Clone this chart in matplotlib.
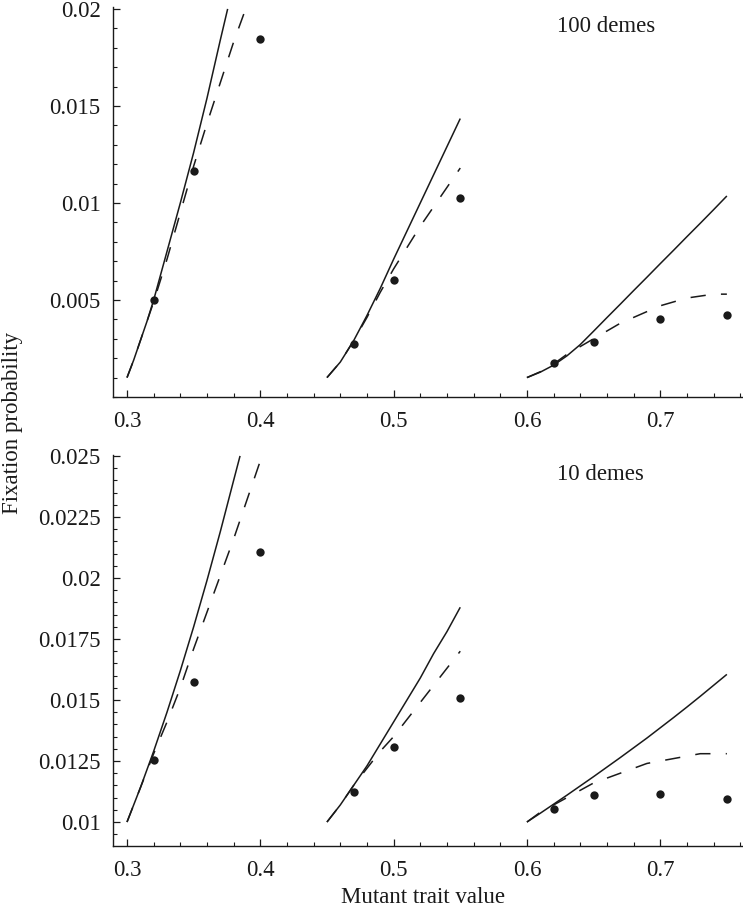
import matplotlib
matplotlib.use('Agg')
import matplotlib.pyplot as plt
from matplotlib.ticker import MultipleLocator

plt.rcParams['font.family'] = ['Liberation Serif', 'DejaVu Serif']
plt.rcParams['font.size'] = 16.5

ink = '#1a1a1a'

# observed points (same x for both panels)
pts_x = [[0.32, 0.35, 0.40], [0.47, 0.50, 0.55], [0.62, 0.65, 0.70, 0.75]]
top_pts_y = [[0.0050, 0.01166, 0.01844],
             [0.00272, 0.00603, 0.01024],
             [0.00174, 0.00285, 0.00402, 0.00424]]
bot_pts_y = [[0.01254, 0.01575, 0.02105],
             [0.01124, 0.01309, 0.01507],
             [0.01053, 0.01111, 0.01114, 0.01094]]

# x grids for the curves
g2_x = [0.45, 0.46, 0.47, 0.48, 0.49, 0.50, 0.51, 0.52, 0.53, 0.54, 0.55]
g3_x = [0.60, 0.61, 0.62, 0.63, 0.64, 0.65, 0.66, 0.67, 0.68, 0.69, 0.70,
        0.71, 0.72, 0.73, 0.74, 0.75]

# 100 demes, solid curves
top_solid1_x = [0.300, 0.305, 0.31, 0.315, 0.32, 0.33, 0.34, 0.35, 0.36, 0.37, 0.3755]
top_solid1_y = [0.0010, 0.0019, 0.0029, 0.0039, 0.0050, 0.0075, 0.0100, 0.0126, 0.0154, 0.0184, 0.0200]
top_solid2_y = [0.0010, 0.0018, 0.0029, 0.0042, 0.0056, 0.0071, 0.00855, 0.0100, 0.01145, 0.0129, 0.01435]
top_solid3_y = [0.00100, 0.00128, 0.00164, 0.00212, 0.00270, 0.00339, 0.00409, 0.00478, 0.00548,
                0.00617, 0.00687, 0.00756, 0.00826, 0.00895, 0.00965, 0.01036]
# 100 demes, dashed curves
top_dash1_x = [0.300, 0.305, 0.31, 0.315, 0.32, 0.33, 0.34, 0.35, 0.36, 0.37, 0.38, 0.389]
top_dash1_y = [0.0010, 0.0019, 0.0029, 0.0039, 0.0049, 0.0071, 0.0095, 0.0119, 0.0141, 0.0162, 0.0183, 0.0200]
top_dash2_y = [0.0010, 0.0018, 0.0029, 0.0041, 0.0054, 0.0066, 0.0077, 0.0088, 0.0098, 0.0108, 0.0118]
top_dash3_y = [0.0010, 0.0013, 0.0017, 0.0022, 0.0026, 0.0030, 0.0034, 0.0038, 0.0041, 0.0044,
               0.0047, 0.0049, 0.0051, 0.0052, 0.0053, 0.0053]

# 10 demes, solid curves
bot_solid1_x = [0.30, 0.31, 0.32, 0.33, 0.34, 0.35, 0.36, 0.37, 0.38, 0.3848]
bot_solid1_y = [0.0100, 0.0114, 0.0129, 0.0145, 0.0162, 0.0180, 0.0199, 0.0219, 0.0240, 0.0250]
bot_solid2_y = [0.0100, 0.0107, 0.0115, 0.0123, 0.0132, 0.0141, 0.0150, 0.0159, 0.0169, 0.0178, 0.0188]
bot_solid3_y = [0.01000, 0.01036, 0.01073, 0.01110, 0.01148, 0.01186, 0.01225, 0.01264, 0.01304,
                0.01344, 0.01386, 0.01428, 0.01471, 0.01515, 0.01560, 0.01605]
# 10 demes, dashed curves
bot_dash1_x = [0.30, 0.31, 0.32, 0.33, 0.34, 0.35, 0.36, 0.37, 0.38, 0.39, 0.40]
bot_dash1_y = [0.0100, 0.0114, 0.0128, 0.0141, 0.0155, 0.0171, 0.0186, 0.0201, 0.0216, 0.0232, 0.0248]
bot_dash2_y = [0.0100, 0.0107, 0.0115, 0.0122, 0.0129, 0.0135, 0.0142, 0.0149, 0.0156, 0.0163, 0.0170]
bot_dash3_y = [0.0100, 0.0104, 0.0107, 0.0110, 0.0113, 0.0116, 0.0118, 0.0120, 0.0122, 0.0124,
               0.0125, 0.0126, 0.0127, 0.0128, 0.0128, 0.0128]

x_ticks = [0.3, 0.4, 0.5, 0.6, 0.7]
x_labels = ['0.3', '0.4', '0.5', '0.6', '0.7']
top_yticks = [0.005, 0.01, 0.015, 0.02]
top_ylabels = ['0.005', '0.01', '0.015', '0.02']
bot_yticks = [0.01, 0.0125, 0.015, 0.0175, 0.02, 0.0225, 0.025]
bot_ylabels = ['0.01', '0.0125', '0.015', '0.0175', '0.02', '0.0225', '0.025']

fig = plt.figure(figsize=(7.43, 9.07), dpi=100)
ax_top = fig.add_axes([0.1521, 0.5623, 0.8479, 0.430])
ax_bot = fig.add_axes([0.1521, 0.0673, 0.8479, 0.4311])

panels = [
    (ax_top, [(top_solid1_x, top_solid1_y), (g2_x, top_solid2_y), (g3_x, top_solid3_y)],
     [(top_dash1_x, top_dash1_y), (g2_x, top_dash2_y), (g3_x, top_dash3_y)],
     top_pts_y, (0.0, 0.0201), top_yticks, top_ylabels, 0.001, '100 demes'),
    (ax_bot, [(bot_solid1_x, bot_solid1_y), (g2_x, bot_solid2_y), (g3_x, bot_solid3_y)],
     [(bot_dash1_x, bot_dash1_y), (g2_x, bot_dash2_y), (g3_x, bot_dash3_y)],
     bot_pts_y, (0.00902, 0.02504), bot_yticks, bot_ylabels, 0.0005, '10 demes'),
]

for ax, solids, dashes, pys, ylim, yt, ytl, yminor, title in panels:
    for xs, ys in solids:
        ax.plot(xs, ys, color=ink, lw=1.1, solid_capstyle='butt')
    for xs, ys in dashes:
        ax.plot(xs, ys, color=ink, lw=1.1, dashes=(10, 10), dash_capstyle='butt')
    for xs, ys in zip(pts_x, pys):
        ax.plot(xs, ys, 'o', color=ink, ms=6, mec='none')
    ax.set_xlim(0.2895, 0.7621)
    ax.set_ylim(*ylim)
    ax.set_xticks(x_ticks)
    ax.set_xticklabels(x_labels)
    ax.set_yticks(yt)
    ax.set_yticklabels(ytl)
    ax.xaxis.set_minor_locator(MultipleLocator(0.02))
    ax.yaxis.set_minor_locator(MultipleLocator(yminor))
    for s in ['top', 'right']:
        ax.spines[s].set_visible(False)
    for s in ['left', 'bottom']:
        ax.spines[s].set_linewidth(1.0)
        ax.spines[s].set_color(ink)
    ax.tick_params(which='major', direction='in', length=5, width=0.9, color=ink,
                   labelsize=16.5, labelcolor=ink)
    ax.tick_params(which='minor', direction='in', length=3, width=0.8, color=ink)
    ax.tick_params(axis='y', which='major', pad=9)
    ax.tick_params(axis='x', which='major', pad=10)
    ax.text(0.705, 0.949, title, transform=ax.transAxes,
            fontsize=16.5, color=ink, ha='left', va='center')

fig.text(0.017, 0.5336, 'Fixation probability', rotation=90, ha='center', va='center',
         fontsize=16.5, color=ink)
fig.text(0.569, 0.011, 'Mutant trait value', ha='center', va='center',
         fontsize=16.5, color=ink)

fig.savefig('out.png', dpi=100)
